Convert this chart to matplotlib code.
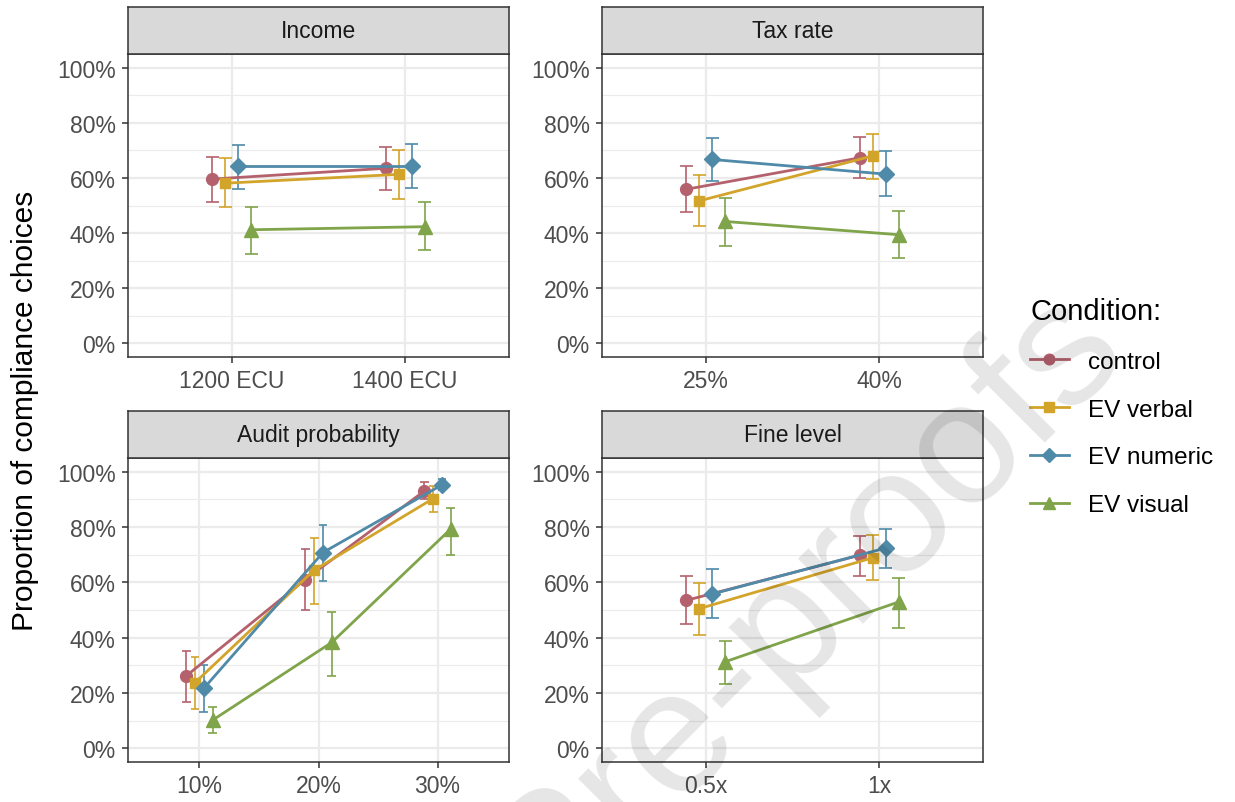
import matplotlib.pyplot as plt
import numpy as np

plt.rcParams['font.family'] = ['Liberation Sans', 'DejaVu Sans']

# 조건 / 색 / 마커
conditions = ["control", "EV verbal", "EV numeric", "EV visual"]
colors = ["#b5616d", "#d3a42a", "#4f8aa8", "#80a44a"]
markers = ["o", "s", "D", "^"]
msizes = [8.5, 7.5, 8.0, 10.0]

# 패널별 x축 수준
income_levels = ["1200 ECU", "1400 ECU"]
tax_levels = ["25%", "40%"]
audit_levels = ["10%", "20%", "30%"]
fine_levels = ["0.5x", "1x"]

# 평균 (%) - 행: control, EV verbal, EV numeric, EV visual
income_mean = [[59.6, 63.5], [58.1, 61.3], [64.3, 64.3], [41.2, 42.3]]
income_lo = [[51.4, 55.8], [49.4, 52.4], [56.1, 56.3], [32.5, 33.9]]
income_hi = [[67.7, 71.3], [67.3, 70.1], [72.0, 72.2], [49.5, 51.1]]

tax_mean = [[55.9, 67.3], [51.7, 68.0], [66.7, 61.4], [44.2, 39.4]]
tax_lo = [[47.6, 59.9], [42.4, 59.6], [59.0, 53.3], [35.2, 31.0]]
tax_hi = [[64.2, 74.8], [61.1, 76.0], [74.6, 69.9], [52.8, 48.0]]

audit_mean = [[26.1, 61.0, 93.0], [23.7, 64.4, 90.3], [21.7, 70.8, 95.3], [10.2, 38.3, 79.4]]
audit_lo = [[16.8, 49.9, 90.3], [14.1, 52.3, 85.4], [13.1, 60.4, 93.3], [5.4, 26.1, 70.0]]
audit_hi = [[35.3, 72.2, 96.3], [32.9, 76.1, 94.7], [30.0, 80.9, 97.5], [14.8, 49.3, 87.0]]

fine_mean = [[53.5, 69.8], [50.5, 68.9], [55.8, 72.4], [31.3, 52.9]]
fine_lo = [[44.9, 62.3], [40.9, 61.0], [47.2, 65.2], [23.1, 43.6]]
fine_hi = [[62.2, 76.8], [59.9, 77.0], [64.7, 79.4], [38.8, 61.7]]

W, H = 1235, 803
fig = plt.figure(figsize=(W / 100, H / 100), dpi=100)

TICK_FS = 16.5


def box(x0, y0, x1, y1):
    # 픽셀 좌표 -> figure 비율
    return [x0 / W, 1 - y1 / H, (x1 - x0) / W, (y1 - y0) / H]


def panel(x0, x1, strip_top, strip_bot, bot, title, levels, mean, lo, hi):
    ax = fig.add_axes(box(x0, strip_bot, x1, bot))
    n = len(levels)
    xs = np.arange(1, n + 1)
    dodge = 0.3
    offs = (np.arange(4) - 1.5) * dodge / 4
    ax.set_xlim(0.4, n + 0.6)
    ax.set_ylim(-5, 105)
    ax.set_yticks(np.arange(0, 101, 20))
    ax.set_yticks(np.arange(10, 100, 20), minor=True)
    ax.set_yticklabels([f"{v}%" for v in range(0, 101, 20)])
    ax.set_xticks(xs)
    ax.set_xticklabels(levels)
    ax.grid(True, which="major", color="#ebebeb", lw=1.6, zorder=0)
    ax.grid(True, which="minor", axis="y", color="#ebebeb", lw=0.8, zorder=0)
    ax.set_axisbelow(True)
    for s in ax.spines.values():
        s.set_color("#333333")
        s.set_linewidth(1.1)
    ax.tick_params(which="major", length=4.3, width=1.1, color="#333333",
                   labelsize=TICK_FS, labelcolor="#4d4d4d", pad=4.5)
    ax.tick_params(which="minor", length=0)
    cap = 0.075
    for i in range(4):
        x = xs + offs[i]
        ax.vlines(x, lo[i], hi[i], color=colors[i], lw=1.2, zorder=2)
        ax.hlines(lo[i], x - cap / 2, x + cap / 2, color=colors[i], lw=1.2, zorder=2)
        ax.hlines(hi[i], x - cap / 2, x + cap / 2, color=colors[i], lw=1.2, zorder=2)
        ax.plot(x, mean[i], color=colors[i], lw=2.0, marker=markers[i],
                ms=msizes[i], mec=colors[i], zorder=3)

    # 패널 제목 띠
    st = fig.add_axes(box(x0, strip_top, x1, strip_bot))
    st.set_facecolor("#d9d9d9")
    st.set_xticks([])
    st.set_yticks([])
    for s in st.spines.values():
        s.set_color("#333333")
        s.set_linewidth(1.1)
    st.text(0.5, 0.5, title, ha="center", va="center", fontsize=TICK_FS,
            color="#1a1a1a", transform=st.transAxes)
    return ax


panel(128, 509, 8, 55, 358, "Income", income_levels, income_mean, income_lo, income_hi)
panel(602, 983, 8, 55, 358, "Tax rate", tax_levels, tax_mean, tax_lo, tax_hi)
panel(128, 509, 412, 459, 763, "Audit probability", audit_levels, audit_mean, audit_lo, audit_hi)
panel(602, 983, 412, 459, 763, "Fine level", fine_levels, fine_mean, fine_lo, fine_hi)

fig.text(25 / W, 1 - 411 / H, "Proportion of compliance choices", rotation=90,
         ha="center", va="center", fontsize=21.5, color="black")

# 범례
handles = [plt.Line2D([], [], color=colors[i], lw=2.0, marker=markers[i],
                      ms=msizes[i] * 0.9) for i in range(4)]
leg = fig.legend(handles, conditions, title="Condition:", loc="upper left",
                 bbox_to_anchor=(1030 / W, 1 - 298 / H), frameon=False,
                 fontsize=17.5, title_fontsize=21, handlelength=1.6,
                 labelspacing=1.06, handletextpad=0.8, borderpad=0,
                 borderaxespad=0)
leg._legend_box.align = "left"

# 워터마크
fig.text(1130 / W, 1 - 357 / H, "Journal Pre-proofs", fontsize=126, color="#000000",
         alpha=0.1, rotation=45, ha="right", va="baseline", rotation_mode="anchor",
         zorder=10)

fig.savefig("out.png", dpi=100)
